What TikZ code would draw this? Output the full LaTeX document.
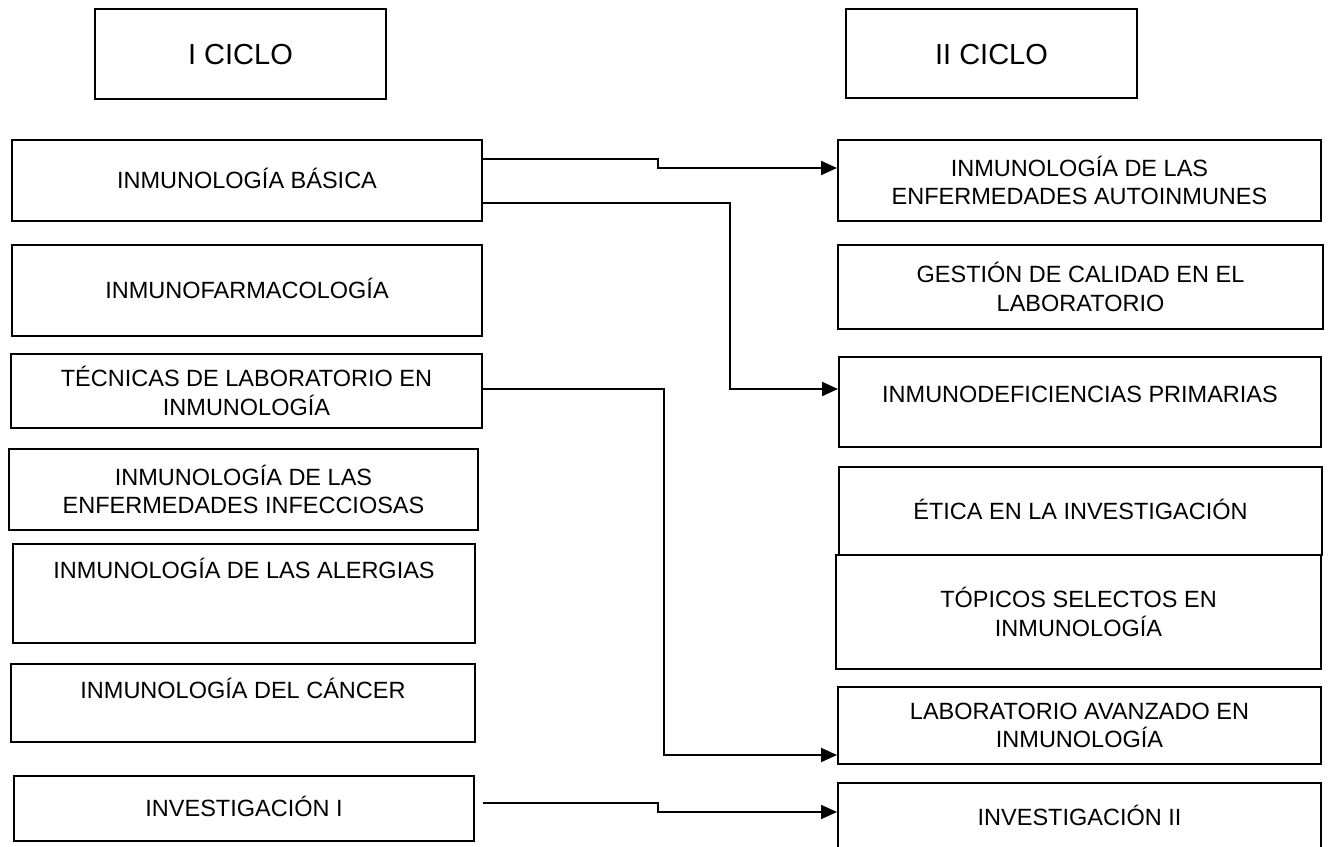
\documentclass[tikz,border=0pt]{standalone}
\usepackage{fontspec}
\setmainfont{Liberation Sans}
\usetikzlibrary{arrows.meta}
\tikzset{
  box/.style={draw, line width=2pt, inner sep=0pt, align=center,
              font=\fontsize{23.5}{28.5}\selectfont},
  onebox/.style={box, text height=16pt, text depth=0pt},
  titlebox/.style={draw, line width=2pt, inner sep=0pt,
              font=\fontsize{29}{34}\selectfont, text height=21pt, text depth=0pt},
  conn/.style={line width=2pt, -{Triangle[length=16pt,width=14pt]}},
}
\begin{document}
\begin{tikzpicture}[x=1pt,y=-1pt]
\path[use as bounding box, fill=white] (0,0) rectangle (1329,846);
\clip (0,0) rectangle (1329,846);

% titles
\node[titlebox, minimum width=291pt, minimum height=90pt] (c1) at (240.5,54) {I CICLO};
\node[titlebox, minimum width=291pt, minimum height=89pt] (c2) at (991.5,53.5) {II CICLO};

% left column
\node[onebox, minimum width=470pt, minimum height=81pt] (basica) at (247,180.5) {INMUNOLOGÍA BÁSICA};
\node[onebox, minimum width=470pt, minimum height=91pt] (farmaco) at (247,290.5) {INMUNOFARMACOLOGÍA};
\node[box, minimum width=471pt, minimum height=74pt] (tecnicas) at (246.5,391) {TÉCNICAS DE LABORATORIO EN\\INMUNOLOGÍA};
\node[box, minimum width=469pt, minimum height=81pt] (infecc) at (243.5,489.5) {INMUNOLOGÍA DE LAS\\ENFERMEDADES INFECCIOSAS};
\node[box, anchor=north, minimum width=462pt, text height=34pt, text depth=65pt] (alergias) at (244,543) {INMUNOLOGÍA DE LAS ALERGIAS};
\node[box, anchor=north, minimum width=464pt, text height=34pt, text depth=44pt] (cancer) at (243,663) {INMUNOLOGÍA DEL CÁNCER};
\node[onebox, minimum width=460pt, minimum height=65pt] (inv1) at (244,808.5) {INVESTIGACIÓN I};

% right column
\node[box, minimum width=483pt, minimum height=81pt] (autoinm) at (1079.5,180.5) {INMUNOLOGÍA DE LAS\\ENFERMEDADES AUTOINMUNES};
\node[box, minimum width=485pt, minimum height=84pt] (gestion) at (1080.5,287) {GESTIÓN DE CALIDAD EN EL\\LABORATORIO};
\node[box, anchor=north, minimum width=482pt, text height=45pt, text depth=45pt] (inmunodef) at (1080,356) {INMUNODEFICIENCIAS PRIMARIAS};
\node[onebox, minimum width=483pt, minimum height=88pt] (etica) at (1080.5,511) {ÉTICA EN LA INVESTIGACIÓN};
\node[box, minimum width=485pt, minimum height=114pt] (topicos) at (1078.5,612) {TÓPICOS SELECTOS EN\\INMUNOLOGÍA};
\node[box, minimum width=483pt, minimum height=77pt] (labav) at (1079.5,725.5) {LABORATORIO AVANZADO EN\\INMUNOLOGÍA};
\node[onebox, minimum width=483pt, minimum height=68pt] (inv2) at (1079.5,817) {INVESTIGACIÓN II};

% connector bend points
\coordinate (k1a) at (658,159);
\coordinate (k1b) at (658,168);
\coordinate (k2a) at (730,203);
\coordinate (k2b) at (730,389);
\coordinate (k3a) at (664,389);
\coordinate (k3b) at (664,755);
\coordinate (k4s) at (483,803);
\coordinate (k4a) at (658,803);
\coordinate (k4b) at (658,812);

\draw[conn] (basica.east |- k1a) -- (k1a) -- (k1b) -- (autoinm.west |- k1b);
\draw[conn] (basica.east |- k2a) -- (k2a) -- (k2b) -- (inmunodef.west |- k2b);
\draw[conn] (tecnicas.east |- k3a) -- (k3a) -- (k3b) -- (labav.west |- k3b);
\draw[conn] (k4s) -- (k4a) -- (k4b) -- (inv2.west |- k4b);
\end{tikzpicture}
\end{document}
